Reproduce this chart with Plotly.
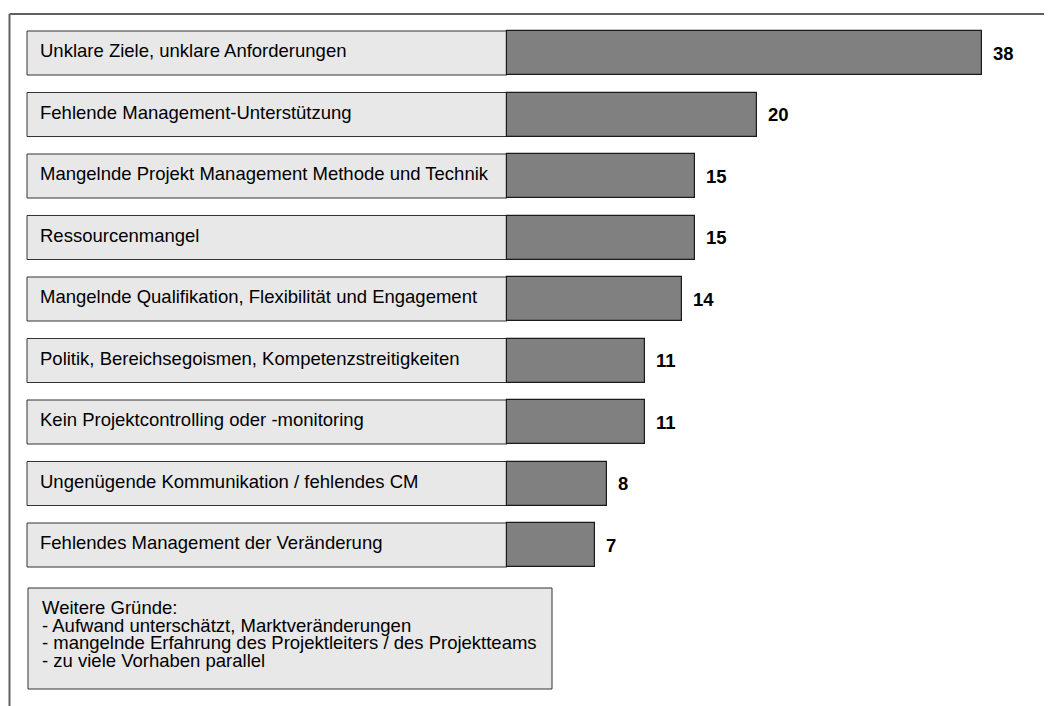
import plotly.graph_objects as go

# --- data -----------------------------------------------------------------
reasons = [
    "Unklare Ziele, unklare Anforderungen",
    "Fehlende Management-Unterstützung",
    "Mangelnde Projekt Management Methode und Technik",
    "Ressourcenmangel",
    "Mangelnde Qualifikation, Flexibilität und Engagement",
    "Politik, Bereichsegoismen, Kompetenzstreitigkeiten",
    "Kein Projektcontrolling oder -monitoring",
    "Ungenügende Kommunikation / fehlendes CM",
    "Fehlendes Management der Veränderung",
]
counts = [38, 20, 15, 15, 14, 11, 11, 8, 7]

further_title = "Weitere Gründe:"
further_reasons = [
    "Aufwand unterschätzt, Marktveränderungen",
    "mangelnde Erfahrung des Projektleiters / des Projektteams",
    "zu viele Vorhaben parallel",
]

# --- geometry (page pixels) -----------------------------------------------
W, H = 1052, 706
OFF = 8                 # default body margin of the html page
BAR_START_PX = 507      # x pixel where value 0 sits
PX_PER_UNIT = 12.5
BOX_LEFT_PX = 27
ROW0_PX = 53            # centre of first row
ROW_PX = 61.5           # row pitch
BAR_PX = 44             # bar / label box height

FONT = "Liberation Sans, Arial, sans-serif"
FS = 18.5

# convert page pixels to figure pixels
bx0_fig = BAR_START_PX - OFF
row0_fig = ROW0_PX - OFF
x_range = [-bx0_fig / PX_PER_UNIT, (W - bx0_fig) / PX_PER_UNIT]
y_range = [(H - row0_fig) / ROW_PX, -row0_fig / ROW_PX]
box_x0 = (BOX_LEFT_PX - BAR_START_PX) / PX_PER_UNIT
half = BAR_PX / ROW_PX / 2


def px(xp, yp):
    return (xp - OFF) / W, 1 - (yp - OFF) / H


fig = go.Figure()

fig.add_trace(go.Bar(
    y=reasons, x=counts, orientation="h",
    width=BAR_PX / ROW_PX,
    marker=dict(color="#808080", line=dict(color="#1a1a1a", width=1.2)),
    hoverinfo="skip", showlegend=False,
))

shapes = []
annotations = []

# label boxes left of the bars
for i, (r, c) in enumerate(zip(reasons, counts)):
    shapes.append(dict(
        type="rect", xref="x", yref="y",
        x0=box_x0, x1=0, y0=i - half, y1=i + half,
        fillcolor="#e8e8e8", line=dict(color="#333333", width=1), layer="below",
    ))
    annotations.append(dict(
        x=box_x0, y=r, xref="x", yref="y", text=r, showarrow=False,
        xanchor="left", yanchor="middle", xshift=11, yshift=2.5,
        font=dict(family=FONT, size=FS, color="#000"),
    ))
    annotations.append(dict(
        x=c, y=r, xref="x", yref="y", text=f"<b>{c}</b>", showarrow=False,
        xanchor="left", yanchor="middle", xshift=9,
        font=dict(family=FONT, size=FS, color="#000"),
    ))

# open frame (top and left)
fx0, fy0 = px(9.5, 14)
shapes.append(dict(type="line", xref="paper", yref="paper",
                   x0=fx0, x1=1, y0=fy0, y1=fy0, line=dict(color="#606060", width=2)))
shapes.append(dict(type="line", xref="paper", yref="paper",
                   x0=fx0, x1=fx0, y0=fy0, y1=0, line=dict(color="#606060", width=2)))

# "Weitere Gründe" box
bx0, by0 = px(28, 588)
bx1, by1 = px(552, 689)
shapes.append(dict(type="rect", xref="paper", yref="paper",
                   x0=bx0, x1=bx1, y0=by1, y1=by0,
                   fillcolor="#e8e8e8", line=dict(color="#333333", width=1)))
lines = [further_title] + ["- " + t for t in further_reasons]
for k, t in enumerate(lines):
    tx, ty = px(40, 607.6 + 17.5 * k)
    annotations.append(dict(
        x=tx, y=ty, xref="paper", yref="paper", text=t, showarrow=False,
        xanchor="left", yanchor="middle",
        font=dict(family=FONT, size=FS, color="#000"),
    ))

fig.update_layout(
    width=W, height=H,
    margin=dict(l=0, r=0, t=0, b=0),
    paper_bgcolor="white", plot_bgcolor="white",
    xaxis=dict(range=x_range, visible=False, fixedrange=True),
    yaxis=dict(range=y_range, visible=False, fixedrange=True, type="category"),
    shapes=shapes, annotations=annotations,
    bargap=0,
)

fig.write_html("out.html")
